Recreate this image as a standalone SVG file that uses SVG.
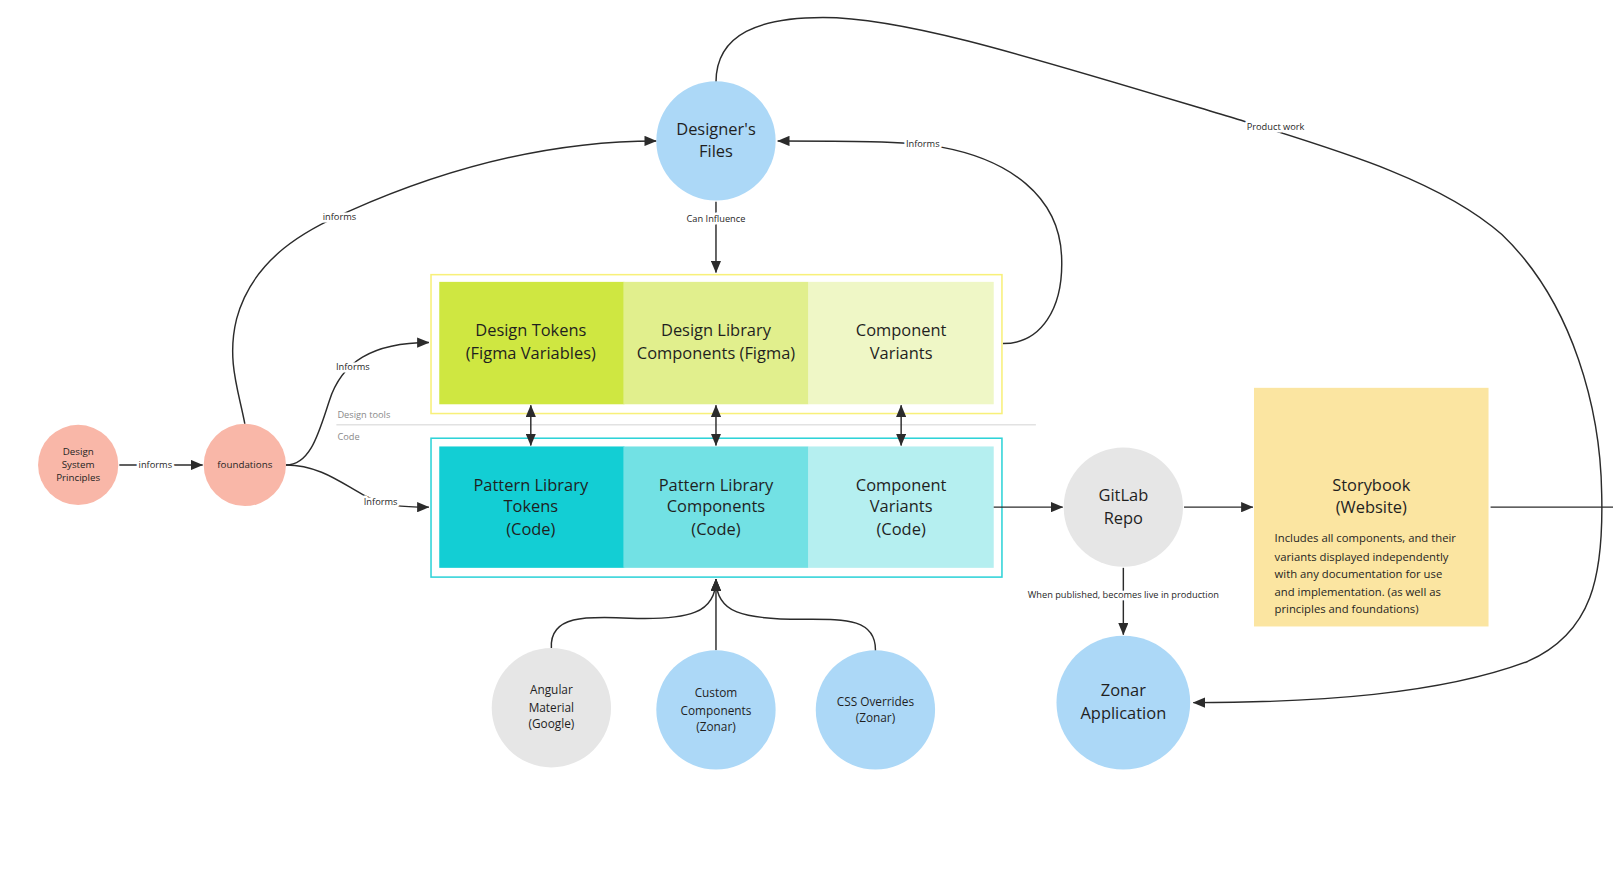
<svg xmlns="http://www.w3.org/2000/svg" width="1613" height="883" viewBox="0 0 1613 883">
<defs>
<style>
text{font-family:"Open Sans","Noto Sans",sans-serif;fill:#1f1f1f;text-anchor:middle}
.big{font-size:16px}
.mid{font-size:11.5px}
.sm{font-size:9.5px}
.lbl{font-size:9px;stroke:#fff;stroke-width:5;paint-order:stroke;stroke-linejoin:round}
.sec{font-size:9px;fill:#8a8a8a;text-anchor:start}
.body{font-size:11px;text-anchor:start}
.c{fill:none;stroke:#2b2b2b;stroke-width:1.4}
.blue{fill:#acd8f7}
.grey{fill:#e6e6e6}
.salmon{fill:#f9b7a8}
</style>
<marker id="ah" markerUnits="userSpaceOnUse" markerWidth="12" markerHeight="10" refX="11.5" refY="5" orient="auto-start-reverse" viewBox="0 0 12 10">
<path d="M0,0 L12,5 L0,10 Z" fill="#2b2b2b"/>
</marker>
</defs>
<rect width="1613" height="883" fill="#fff"/>
<g id="diagram" transform="scale(1.0287)">

<g id="section-divider">
<line x1="327" y1="413" x2="1007" y2="413" stroke="#e2e2e2" stroke-width="1.5"/>
<text class="sec" x="328" y="406">Design tools</text>
<text class="sec" x="328" y="428">Code</text>
</g>

<g id="design-tools-group">
<rect x="419" y="267" width="555" height="135" fill="none" stroke="#f8f07a" stroke-width="1.5"/>
</g>
<g id="design-tokens">
<rect x="427" y="274" width="180" height="119" fill="#cfe741"/>
<text class="big" x="516" y="327">Design Tokens</text>
<text class="big" x="516" y="349">(Figma Variables)</text>
</g>
<g id="design-library-components">
<rect x="606" y="274" width="180" height="119" fill="#e1ef8d"/>
<text class="big" x="696" y="327">Design Library</text>
<text class="big" x="696" y="349">Components (Figma)</text>
</g>
<g id="component-variants-design">
<rect x="786" y="274" width="180" height="119" fill="#eff7c6"/>
<text class="big" x="876" y="327">Component</text>
<text class="big" x="876" y="349">Variants</text>
</g>

<g id="code-group">
<rect x="419" y="426" width="555" height="135" fill="none" stroke="#2fd3d8" stroke-width="1.5"/>
</g>
<g id="pattern-library-tokens">
<rect x="427" y="434" width="180" height="118" fill="#13ced4"/>
<text class="big" x="516" y="477">Pattern Library</text>
<text class="big" x="516" y="498">Tokens</text>
<text class="big" x="516" y="520">(Code)</text>
</g>
<g id="pattern-library-components">
<rect x="606" y="434" width="180" height="118" fill="#72e1e4"/>
<text class="big" x="696" y="477">Pattern Library</text>
<text class="big" x="696" y="498">Components</text>
<text class="big" x="696" y="520">(Code)</text>
</g>
<g id="component-variants-code">
<rect x="786" y="434" width="180" height="118" fill="#b5eff0"/>
<text class="big" x="876" y="477">Component</text>
<text class="big" x="876" y="498">Variants</text>
<text class="big" x="876" y="520">(Code)</text>
</g>

<g id="connectors">
<path class="c" d="M116,452 L197,452" marker-end="url(#ah)"/>
<path class="c" d="M278,452 C302,452 310,420 320,390 C332,352 362,333 417,333" marker-end="url(#ah)"/>
<path class="c" d="M278,452 C312,452 335,472 355,482 C375,492 390,493 417,493" marker-end="url(#ah)"/>
<path class="c" d="M238,412 C232,380 220,350 230,310 C246,250 300,222 340,205 C430,165 530,137 638,137" marker-end="url(#ah)"/>
<path class="c" d="M696,196 L696,265" marker-end="url(#ah)"/>
<path class="c" d="M975,334 C1012,334 1034,300 1032,250 C1030,190 980,155 915,143 C880,137 820,137 756,137" marker-end="url(#ah)"/>
<path class="c" d="M516,394 L516,433" marker-start="url(#ah)" marker-end="url(#ah)"/>
<path class="c" d="M696,394 L696,433" marker-start="url(#ah)" marker-end="url(#ah)"/>
<path class="c" d="M876,394 L876,433" marker-start="url(#ah)" marker-end="url(#ah)"/>
<path class="c" d="M966,493 L1033,493" marker-end="url(#ah)"/>
<path class="c" d="M1151,493 L1218,493" marker-end="url(#ah)"/>
<path class="c" d="M1449,493 L1570,493"/>
<path class="c" d="M1092,552 L1092,617" marker-end="url(#ah)"/>
<path class="c" d="M696,80 C696,32 740,17 800,17 C880,17 1000,55 1200,115 C1300,146 1400,175 1460,228 C1530,295 1556,400 1557,480 C1559,560 1548,615 1485,643 C1400,675 1280,683 1160,683" marker-end="url(#ah)"/>
<path class="c" d="M536,630 C534,598 570,599 612,601 C670,603 696,596 696,563" marker-end="url(#ah)"/>
<path class="c" d="M696,632 L696,563" marker-end="url(#ah)"/>
<path class="c" d="M851,633 C852,600 818,602 780,602 C722,602 696,596 696,563" marker-end="url(#ah)"/>
<text class="lbl" x="151" y="455">informs</text>
<text class="lbl" x="343" y="360">Informs</text>
<text class="lbl" x="370" y="491">Informs</text>
<text class="lbl" x="330" y="214">informs</text>
<text class="lbl" x="696" y="216">Can Influence</text>
<text class="lbl" x="897" y="143">Informs</text>
<text class="lbl" x="1240" y="126">Product work</text>
<text class="lbl" x="1092" y="581">When published, becomes live in production</text>
</g>

<g id="design-system-principles">
<circle class="salmon" cx="76" cy="452" r="39"/>
<text class="sm" x="76" y="442">Design</text>
<text class="sm" x="76" y="455">System</text>
<text class="sm" x="76" y="468">Principles</text>
</g>

<g id="foundations">
<circle class="salmon" cx="238" cy="452" r="40"/>
<text class="sm" x="238" y="455">foundations</text>
</g>

<g id="designers-files">
<circle class="blue" cx="696" cy="137" r="58"/>
<text class="big" x="696" y="131">Designer's</text>
<text class="big" x="696" y="153">Files</text>
</g>

<g id="gitlab-repo">
<circle class="grey" cx="1092" cy="493" r="58"/>
<text class="big" x="1092" y="487">GitLab</text>
<text class="big" x="1092" y="509">Repo</text>
</g>

<g id="storybook">
<rect x="1219" y="377" width="228" height="232" fill="#fbe5a1"/>
<text class="big" x="1333" y="477">Storybook</text>
<text class="big" x="1333" y="499">(Website)</text>
<text class="body" x="1239" y="527">Includes all components, and their</text>
<text class="body" x="1239" y="545">variants displayed independently</text>
<text class="body" x="1239" y="562">with any documentation for use</text>
<text class="body" x="1239" y="579">and implementation. (as well as</text>
<text class="body" x="1239" y="596">principles and foundations)</text>
</g>

<g id="zonar-application">
<circle class="blue" cx="1092" cy="683" r="65"/>
<text class="big" x="1092" y="677">Zonar</text>
<text class="big" x="1092" y="699">Application</text>
</g>

<g id="angular-material">
<circle class="grey" cx="536" cy="688" r="58"/>
<text class="mid" x="536" y="675">Angular</text>
<text class="mid" x="536" y="692">Material</text>
<text class="mid" x="536" y="708">(Google)</text>
</g>

<g id="custom-components">
<circle class="blue" cx="696" cy="690" r="58"/>
<text class="mid" x="696" y="678">Custom</text>
<text class="mid" x="696" y="695">Components</text>
<text class="mid" x="696" y="711">(Zonar)</text>
</g>

<g id="css-overrides">
<circle class="blue" cx="851" cy="690" r="58"/>
<text class="mid" x="851" y="686">CSS Overrides</text>
<text class="mid" x="851" y="702">(Zonar)</text>
</g>
</g>
</svg>
